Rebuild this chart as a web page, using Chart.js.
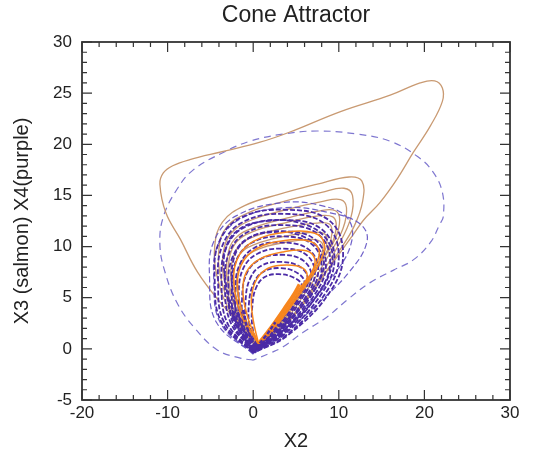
<!DOCTYPE html>
<html>
<head>
<meta charset="utf-8">
<script src="https://cdn.jsdelivr.net/npm/chart.js@4"></script>
<style>
  html, body { margin: 0; background: #fff; }
</style>
</head>
<body>
<canvas id="chart" width="537" height="458"></canvas>
<script>
const xTicks = [-20, -10, 0, 10, 20, 30];
const yTicks = [-5, 0, 5, 10, 15, 20, 25, 30];

// big excursions
const salmonOuter = [[0.2,0.5],[-1.5,2.4],[-3.9,4.6],[-6.5,7.5],[-8.5,10.7],[-10.2,13.3],[-10.9,16.1],[-10.5,17.2],[-9.4,17.9],[-7.4,18.5],[-3.5,19.3],[0.8,20.2],[4.3,21.2],[10.2,23.2],[16,24.8],[19.5,26],[21.2,26.2],[22.1,25.5],[22.1,24.2],[20.7,21.8],[18.7,19.2],[16.8,16.6],[14.8,14.3],[12.9,12.6],[11.7,11.2],[9.8,9],[7.8,6.8],[4.3,2.8],[0.8,0.6]];
const purpleOuter = [[0,-1.1],[-1.5,-0.9],[-4.2,-0.1],[-7,2.2],[-8.9,4.5],[-10.3,7.5],[-10.9,10.2],[-10.5,12.9],[-8.9,15.6],[-7,17.5],[-3.5,19.2],[-0.4,20.3],[3.5,21],[7.5,21.3],[12.1,21],[16,20.3],[19.2,18.8],[21,17.3],[22.1,15.3],[22.2,12.9],[21.8,12.2],[20.7,10.4],[18.7,8.7],[16.4,7.7],[13.7,6.5],[11,4.8],[8.6,3.1],[5.8,1.6],[3.5,0.2],[2,-0.4],[0,-1.1]];

// dense bundle around the hole (X4)
const purpleLoops = [
  [[0.5,0.4],[-0.1,2.2],[-0.1,4.2],[0.3,5.9],[1.3,7],[3,7.3],[4.9,6.9],[5.7,6.1],[4.7,4.6],[2.6,2.1],[0.5,0.4]],
  [[0.45,0.3],[-0.4,2.2],[-0.5,4.4],[0,6.3],[1.1,7.5],[3.1,7.9],[5.2,7.4],[6,6.4],[5,4.6],[2.7,2],[0.45,0.3]],
  [[0.4,0.2],[-0.75,2.2],[-0.9,4.6],[-0.4,6.8],[0.9,8.1],[3.2,8.5],[5.5,8],[6.4,6.7],[5.3,4.7],[2.8,1.9],[0.4,0.2]],
  [[0.35,0.1],[-1.1,2.2],[-1.3,4.9],[-0.8,7.3],[0.7,8.7],[3.3,9.2],[5.9,8.6],[6.8,7],[5.6,4.8],[2.9,1.8],[0.35,0.1]],
  [[0.3,0],[-1.4,2.3],[-1.7,5.1],[-1.2,7.8],[0.5,9.3],[3.4,9.8],[6.2,9.2],[7.2,7.3],[6,4.9],[3,1.7],[0.3,0]],
  [[0.25,-0.05],[-1.7,2.3],[-2.1,5.4],[-1.6,8.2],[0.2,9.9],[3.4,10.4],[6.5,9.7],[7.6,7.6],[6.3,5],[3.1,1.6],[0.25,-0.05]],
  [[0.2,-0.1],[-2,2.4],[-2.5,5.7],[-2,8.6],[-0.1,10.4],[3.5,11],[6.9,10.2],[8,7.9],[6.7,5.1],[3.2,1.5],[0.2,-0.1]],
  [[0.1,-0.15],[-2.3,2.4],[-2.9,6],[-2.4,9],[-0.4,10.9],[3.5,11.5],[7.2,10.7],[8.5,8.2],[7.1,5.2],[3.3,1.5],[0.1,-0.15]],
  [[0.05,-0.2],[-2.6,2.5],[-3.3,6.2],[-2.8,9.4],[-0.7,11.4],[3.6,12.1],[7.6,11.2],[9,8.5],[7.5,5.3],[3.4,1.4],[0.05,-0.2]],
  [[0,-0.3],[-3,2.5],[-3.7,6.4],[-3.2,9.8],[-1,11.9],[3.6,12.6],[8,11.7],[9.5,8.8],[8,5.4],[3.6,1.4],[0,-0.3]],
  [[0,-0.35],[-3.4,2.6],[-4.1,6.6],[-3.6,10.1],[-1.2,12.4],[3.7,13.2],[8.4,12.2],[10,9.1],[8.5,5.5],[3.8,1.3],[0,-0.35]],
  [[0,-0.4],[-3.7,2.6],[-4.5,6.8],[-4,10.4],[-1.5,12.8],[3.7,13.6],[8.8,12.6],[10.5,9.4],[9,5.6],[4,1.3],[0,-0.4]],
  [[0.2,0],[-2.2,2.6],[-3.2,6.5],[-3.3,9.5],[-1.8,11.6],[1.5,12.5],[5.5,12.3],[8.5,10.8],[9.2,8.3],[7.2,4.9],[3.2,1.6],[0.2,0]],
  [[0.3,0.1],[-1.5,2.5],[-2.4,5.8],[-2.3,8.7],[-0.9,10.6],[2,11.4],[5.8,11],[8,9.3],[8,7.2],[6.1,4.6],[2.9,1.7],[0.3,0.1]]
];
const purpleWide = [
  [[0,-0.5],[-3.8,2.5],[-4.6,6.6],[-4.1,10.2],[-1.5,12.7],[3.7,13.8],[9,13.3],[12.5,12.2],[13.3,10.5],[11.2,7.5],[7,4],[3.2,1.2],[0,-0.5]],
  [[0,-0.5],[-4.3,2.6],[-5.1,7],[-4.6,10.5],[-2,13],[3.5,14.3],[8,14],[11,12.8],[11.5,10.5],[9.5,7.3],[6,4],[2.8,1.2],[0,-0.5]]
];

// X3 loops
const salmonLoops = [
  [[0.3,0.3],[-2.6,3.5],[-4.2,7],[-4.5,10],[-3.6,12.4],[-1,14],[3,15.1],[7.5,16.1],[11.2,16.8],[12.7,16.4],[12.8,14.5],[11.8,12],[10,9.5],[7,5.6],[3.5,2.2],[0.3,0.3]],
  [[0.3,0.2],[-2.3,3.4],[-3.8,7],[-4,9.8],[-3.1,11.9],[-0.6,13.3],[3.5,14.4],[8,15.3],[10.6,15.7],[11.6,15],[11.4,12.8],[10,10.2],[7,6],[3.5,2.2],[0.3,0.2]],
  [[0.3,0.2],[-2,3.3],[-3.4,6.8],[-3.5,9.4],[-2.6,11.3],[-0.2,12.6],[3.8,13.6],[8,14.4],[10.2,14.6],[10.9,13.8],[10.5,11.8],[9,9.4],[6.5,6],[3.3,2.3],[0.3,0.2]],
  [[0.4,0.3],[-1.7,3.2],[-3,6.5],[-3,9],[-2.1,10.8],[0.2,11.9],[4,12.8],[7.8,13.5],[9.6,13.5],[10.1,12.6],[9.6,10.8],[8.2,8.8],[6,5.8],[3.2,2.4],[0.4,0.3]],
  [[0.4,0.3],[-1.5,3.1],[-2.8,6.3],[-2.8,8.8],[-1.9,10.5],[0.4,11.6],[4.1,12.4],[7.6,13],[9.3,12.9],[9.7,12],[9.2,10.3],[7.8,8.4],[5.8,5.7],[3.1,2.4],[0.4,0.3]],
  [[0.4,0.3],[-1.3,3.1],[-2.5,6.1],[-2.5,8.4],[-1.6,10.1],[0.5,11.1],[4.2,11.9],[7.4,12.3],[8.9,12.2],[9.2,11.3],[8.7,9.7],[7.4,7.9],[5.5,5.6],[3,2.4],[0.4,0.3]],
  [[0.5,0.3],[-1.1,3],[-2.2,5.9],[-2.2,8],[-1.3,9.5],[0.8,10.4],[4.3,11.1],[7.1,11.4],[8.4,11.2],[8.6,10.3],[8,8.8],[6.9,7.2],[5.2,5.3],[2.9,2.4],[0.5,0.3]],
  [[0.5,0.4],[-0.9,3],[-1.9,5.7],[-1.8,7.6],[-0.9,9],[1.1,9.9],[4.4,10.5],[6.9,10.7],[8,10.4],[8.1,9.6],[7.5,8.3],[6.5,6.8],[5,5.1],[2.8,2.4],[0.5,0.4]]
];
const orangeLoops = [
  [[0.6,0.5],[-0.6,3],[-1.2,5.5],[-0.8,7.5],[0.8,8.8],[3.6,9.5],[6.2,9.6],[7.2,8.8],[6.9,7.6],[5.8,6.2],[3.7,3.6],[1.5,1.2],[0.6,0.5]],
  [[0.6,0.5],[-1,3],[-1.8,5.8],[-1.4,8.2],[0.4,9.8],[3.7,10.6],[6.7,10.5],[7.7,9.6],[7.3,8.2],[6.2,6.5],[4,3.8],[1.6,1.2],[0.6,0.5]],
  [[0.6,0.5],[-1.3,3.1],[-2.2,6],[-1.9,8.7],[0,10.5],[3.8,11.4],[7.2,11.3],[8.3,10.3],[7.9,8.7],[6.6,6.8],[4.2,3.9],[1.7,1.2],[0.6,0.5]],
  [[0.6,0.6],[0,2.8],[-0.2,5],[0.4,6.8],[1.8,7.9],[3.9,8.2],[5.8,7.9],[6.3,7],[5.6,6.1],[3.8,3.9],[1.7,1.4],[0.6,0.6]]
];
const orangeEdge = [[0.7,0.6],[2.1,2.1],[3.6,3.9],[4.8,5.4],[5.4,6.3]];
const purpleCusp = [
  [[-1.8,3.6],[-1,1.6],[0,0.2],[1.4,0.8],[3,2.4]],
  [[-2.4,3.4],[-1.2,1.2],[0,-0.1],[1.8,0.7],[3.6,2.3]],
  [[-1.2,3.8],[-0.6,1.8],[0.3,0.4],[1.2,1],[2.6,2.6]],
  [[-2.8,4.8],[-1.6,2.2],[0,0.1],[2.2,1],[4.4,3.2]]
];

const toPts = arr => arr.map(p => ({ x: p[0], y: p[1] }));

function line(pts, color, width, dash) {
  return {
    data: toPts(pts),
    showLine: true,
    borderColor: color,
    borderWidth: width,
    borderDash: dash || [],
    pointRadius: 0,
    tension: 0.4,
    fill: false
  };
}

// listed in painting order (first = bottom)
const painted = [];
painted.push(line(purpleOuter, 'rgba(105,95,200,0.85)', 1.2, [7, 5]));
painted.push(line(salmonOuter, '#c99a72', 1.3));
salmonLoops.forEach(l => painted.push(line(l, '#c99a72', 1.3)));
purpleWide.forEach(l => painted.push(line(l, 'rgba(95,80,195,0.9)', 1.2, [6, 3])));
purpleLoops.forEach(l => painted.push(line(l, '#4b2ba6', 1.8, [5, 2])));
orangeLoops.forEach(l => painted.push(line(l, '#f7861e', 1.5)));
painted.push(line(orangeEdge, '#f7861e', 3.5));
purpleCusp.forEach(l => painted.push(line(l, '#4b2ba6', 2.5, [4, 2])));

const frame = {
  id: 'frame',
  afterDraw(chart) {
    const { ctx, chartArea: a, scales } = chart;
    const xs = scales.x, ys = scales.y;
    ctx.save();
    ctx.strokeStyle = '#333';
    ctx.lineWidth = 1.8;
    ctx.strokeRect(a.left, a.top, a.right - a.left, a.bottom - a.top);
    ctx.lineWidth = 1.2;
    ctx.beginPath();
    for (let v = xTicks[0]; v <= xTicks[xTicks.length - 1]; v += 2) {
      const px = xs.getPixelForValue(v);
      const len = v % 10 === 0 ? 10 : 5;
      ctx.moveTo(px, a.bottom); ctx.lineTo(px, a.bottom - len);
      ctx.moveTo(px, a.top); ctx.lineTo(px, a.top + len);
    }
    for (let v = yTicks[0]; v <= yTicks[yTicks.length - 1]; v += 1) {
      const py = ys.getPixelForValue(v);
      const len = v % 5 === 0 ? 10 : 5;
      ctx.moveTo(a.left, py); ctx.lineTo(a.left + len, py);
      ctx.moveTo(a.right, py); ctx.lineTo(a.right - len, py);
    }
    ctx.stroke();
    ctx.fillStyle = '#222';
    ctx.font = '23px "Liberation Sans", Arial, sans-serif';
    ctx.textAlign = 'center';
    ctx.textBaseline = 'middle';
    ctx.fillText('Cone Attractor', (a.left + a.right) / 2, 16);
    ctx.restore();
  }
};

const tickFont = { family: '"Liberation Sans", Arial, sans-serif', size: 17 };

new Chart(document.getElementById('chart'), {
  type: 'scatter',
  data: { datasets: painted.reverse() },
  plugins: [frame],
  options: {
    responsive: false,
    animation: false,
    layout: { padding: { top: 42, right: 27, left: 0, bottom: 0 } },
    plugins: { legend: { display: false }, tooltip: { enabled: false }, title: { display: false } },
    scales: {
      x: {
        type: 'linear',
        min: xTicks[0],
        max: xTicks[xTicks.length - 1],
        ticks: { stepSize: xTicks[1] - xTicks[0], color: '#222', font: tickFont, padding: 3 },
        grid: { display: false, drawTicks: false },
        border: { display: false },
        title: { display: true, text: 'X2', color: '#222', font: { family: tickFont.family, size: 20, lineHeight: 1.2 }, padding: { top: 0, bottom: 5 } },
        afterFit(scale) { scale.height = 58; }
      },
      y: {
        type: 'linear',
        min: yTicks[0],
        max: yTicks[yTicks.length - 1],
        ticks: { stepSize: yTicks[1] - yTicks[0], color: '#222', font: tickFont, padding: 10 },
        grid: { display: false, drawTicks: false },
        border: { display: false },
        title: { display: true, text: 'X3 (salmon) X4(purple)', color: '#222', font: { family: tickFont.family, size: 20, lineHeight: 1.2 }, padding: { top: 10, bottom: 0 } },
        afterFit(scale) { scale.width = 82; }
      }
    }
  }
});
</script>
</body>
</html>
